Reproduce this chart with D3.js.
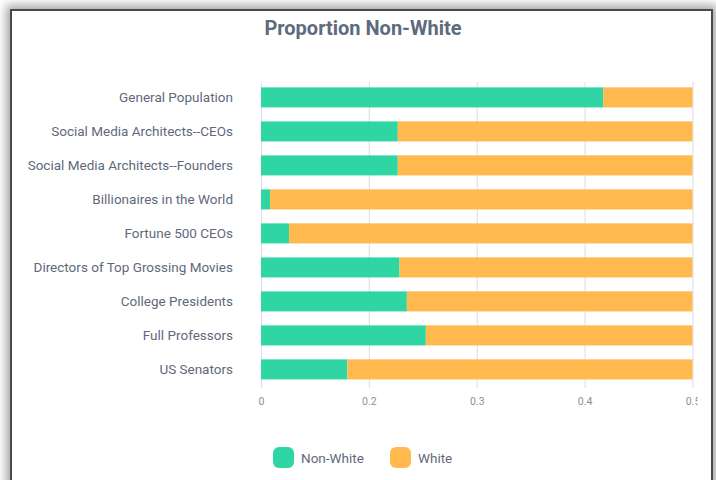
<!DOCTYPE html>
<html lang="en">
<head>
    <meta charset="UTF-8">
    <title>Proportion Non-White</title>
    <script src="https://d3js.org/d3.v7.min.js"></script>
    <style>
        body {
            margin: 0;
            background: #ffffff;
            overflow: hidden;
        }
        .card {
            position: absolute;
            left: 10px;
            top: 9px;
            width: 699px;
            height: 490px;
            border: 2px solid #4a4a4a;
            background: #ffffff;
            box-shadow: 0 0 9px 4px rgba(0, 0, 0, 0.35);
        }
        svg {
            position: absolute;
            left: 0;
            top: 0;
        }
    </style>
</head>
<body>
<div class="card"></div>
<script>
    // proportions (each bar fills to 1)
    var categories = [
        "General Population",
        "Social Media Architects--CEOs",
        "Social Media Architects--Founders",
        "Billionaires in the World",
        "Fortune 500 CEOs",
        "Directors of Top Grossing Movies",
        "College Presidents",
        "Full Professors",
        "US Senators"
    ];
    var nonWhite = [0.793, 0.317, 0.317, 0.021, 0.065, 0.321, 0.338, 0.382, 0.200];
    var white    = [0.207, 0.683, 0.683, 0.979, 0.935, 0.679, 0.662, 0.618, 0.800];
    var seriesNames = ["Non-White", "White"];
    var tickValues = [0, 0.25, 0.5, 0.75, 1];
    var tickLabels = ["0", "0.2", "0.3", "0.4", "0.5"];

    var w = 716;
    var h = 480;
    var colors = ["#2fd6a4", "#ffb94f"];

    var rows = categories.map(function(c, i) {
        return {cat: c, "Non-White": nonWhite[i], "White": white[i]};
    });

    var stacked = d3.stack().keys(seriesNames)(rows);

    var x = d3.scaleLinear()
        .domain([0, 1])
        .range([261, 692.5]);

    var y = d3.scaleBand()
        .domain(categories)
        .range([80.4, 386.4])
        .paddingInner(0.41)
        .paddingOuter(0.205);

    var svg = d3.select("body")
        .append("svg")
        .attr("width", w)
        .attr("height", h);

    svg.append("defs")
        .append("clipPath")
        .attr("id", "axisClip")
        .append("rect")
        .attr("x", 0)
        .attr("y", 0)
        .attr("width", 697.5)
        .attr("height", h);

    // title
    svg.append("text")
        .attr("x", 363)
        .attr("y", 35)
        .attr("text-anchor", "middle")
        .style("font-family", "Roboto, sans-serif")
        .style("font-size", "20px")
        .style("font-weight", "bold")
        .style("fill", "#5c6b7d")
        .text("Proportion Non-White");

    // grid lines + axis
    var xAxis = d3.axisBottom(x)
        .tickValues(tickValues)
        .tickSize(306)
        .tickPadding(10)
        .tickFormat(function(d, i) { return tickLabels[i]; });

    var gx = svg.append("g")
        .attr("transform", "translate(0,82)")
        .attr("clip-path", "url(#axisClip)")
        .call(xAxis);

    gx.select(".domain").remove();
    gx.selectAll(".tick line")
        .attr("stroke", "#dfe2e8")
        .attr("stroke-width", 1.2);
    gx.selectAll(".tick text")
        .style("font-family", "Roboto, sans-serif")
        .style("font-size", "10.5px")
        .style("fill", "#8b909a");

    // bars
    svg.selectAll("g.layer")
        .data(stacked)
        .enter()
        .append("g")
        .attr("class", "layer")
        .attr("fill", function(d, i) { return colors[i]; })
        .selectAll("rect")
        .data(function(d) { return d; })
        .enter()
        .append("rect")
        .attr("x", function(d) { return x(d[0]); })
        .attr("y", function(d) { return y(d.data.cat); })
        .attr("width", function(d) { return x(d[1]) - x(d[0]); })
        .attr("height", y.bandwidth());

    // category labels
    svg.selectAll("text.cat")
        .data(categories)
        .enter()
        .append("text")
        .attr("class", "cat")
        .attr("x", 233)
        .attr("y", function(d) { return y(d) + y.bandwidth() / 2; })
        .attr("dy", "0.35em")
        .attr("text-anchor", "end")
        .style("font-family", "Roboto, sans-serif")
        .style("font-size", "13.5px")
        .style("fill", "#5f697b")
        .text(function(d) { return d; });

    // legend
    var legendX = [273, 390];
    var legend = svg.selectAll("g.legend")
        .data(seriesNames)
        .enter()
        .append("g")
        .attr("class", "legend")
        .attr("transform", function(d, i) { return "translate(" + legendX[i] + ",447)"; });

    legend.append("rect")
        .attr("width", 21)
        .attr("height", 21)
        .attr("rx", 6)
        .attr("fill", function(d, i) { return colors[i]; });

    legend.append("text")
        .attr("x", 28)
        .attr("y", 11)
        .attr("dy", "0.35em")
        .style("font-family", "Roboto, sans-serif")
        .style("font-size", "13.5px")
        .style("fill", "#5f697b")
        .text(function(d) { return d; });
</script>
</body>
</html>
